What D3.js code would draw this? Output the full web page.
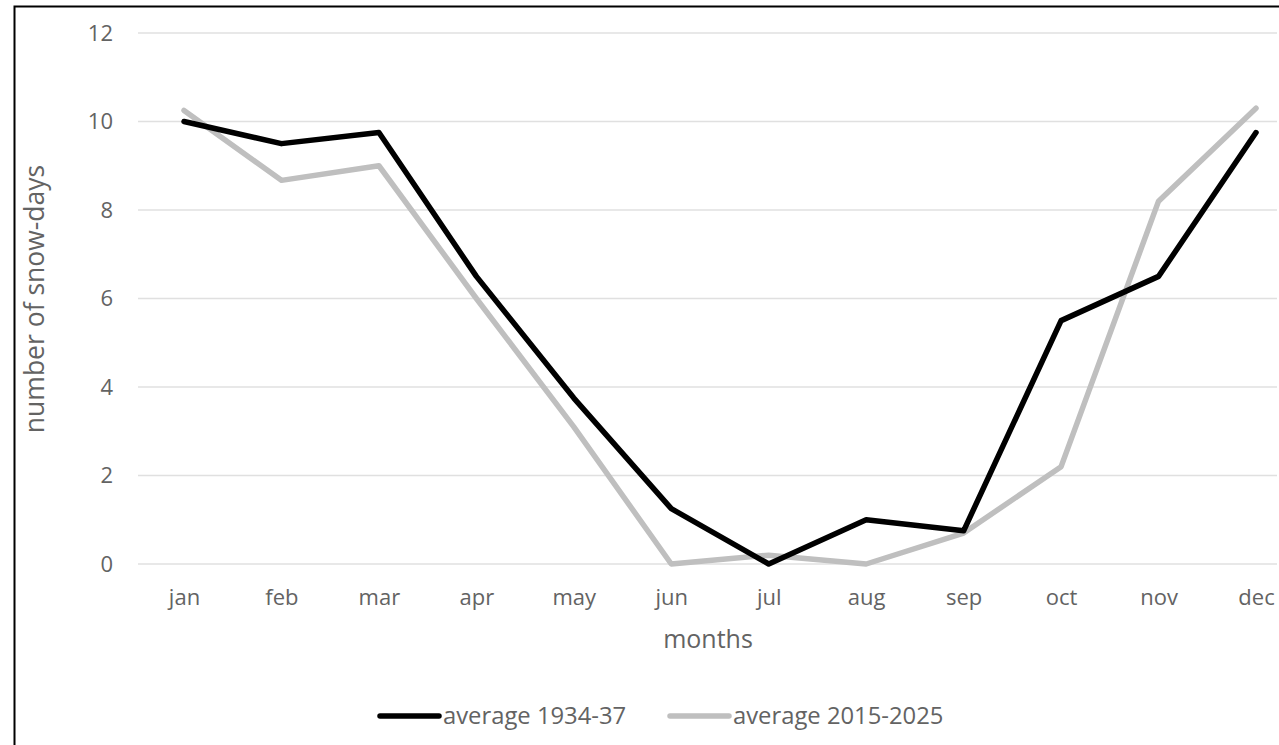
<!DOCTYPE html>
<html><head><meta charset="utf-8">
<script src="https://cdn.jsdelivr.net/npm/d3@7"></script>
<style>html,body{margin:0;padding:0;background:#fff;}svg{display:block;}</style>
</head><body>
<script>
const months = ["jan","feb","mar","apr","may","jun","jul","aug","sep","oct","nov","dec"];
const avg1934 = [10, 9.5, 9.75, 6.5, 3.75, 1.25, 0, 1, 0.75, 5.5, 6.5, 9.75];
const avg2015 = [10.25, 8.67, 9, 6, 3.1, 0, 0.2, 0, 0.7, 2.2, 8.2, 10.3];
const yTicks = [0, 2, 4, 6, 8, 10, 12];
const seriesNames = ["average 1934-37", "average 2015-2025"];
const seriesColors = ["#000000", "#bfbfbf"];

const W = 1279, H = 745;
const font = "'Open Sans', sans-serif";
const txt = "#636363";
const svg = d3.select("body").append("svg").attr("width", W).attr("height", H);
svg.append("rect").attr("width", W).attr("height", H).attr("fill", "#fff");
svg.append("rect").attr("x", 14.5).attr("y", 6.5).attr("width", W).attr("height", H)
  .attr("fill", "none").attr("stroke", "#000").attr("stroke-width", 2);

const x = d3.scalePoint().domain(months).range([184, 1256]);
const y = d3.scaleLinear().domain([0, 12]).range([564, 33]);
const gridX0 = 138, gridX1 = 1277;

// gridlines
svg.append("g").selectAll("line").data(yTicks).join("line")
  .attr("x1", gridX0).attr("x2", gridX1)
  .attr("y1", d => y(d)).attr("y2", d => y(d))
  .attr("stroke", "#e0e0e0").attr("stroke-width", 1.5);

// y axis labels via axis
const yAxis = svg.append("g").attr("transform", "translate(122,0)")
  .call(d3.axisLeft(y).tickValues(yTicks).tickSize(0).tickPadding(9));
yAxis.select(".domain").remove();
yAxis.selectAll("text").attr("fill", txt).style("font-family", font).style("font-size", "22px");

// x axis labels
const xAxis = svg.append("g").attr("transform", "translate(0,589)")
  .call(d3.axisBottom(x).tickSize(0).tickPadding(0));
xAxis.select(".domain").remove();
xAxis.selectAll("text").attr("fill", txt).style("font-family", font).style("font-size", "22px");

// titles
svg.append("text").attr("x", 708).attr("y", 648).attr("text-anchor", "middle")
  .attr("fill", txt).style("font-family", font).style("font-size", "25px").text("months");
svg.append("text").attr("transform", "translate(44,299) rotate(-90)").attr("text-anchor", "middle")
  .attr("fill", txt).style("font-family", font).style("font-size", "26.5px").text("number of snow-days");

// lines
const line = d3.line().x((d, i) => x(months[i])).y(d => y(d));
[avg2015, avg1934].forEach((s, k) => {
  const idx = k === 0 ? 1 : 0;
  svg.append("path").datum(s).attr("d", line).attr("fill", "none")
    .attr("stroke", seriesColors[idx]).attr("stroke-width", 5.5)
    .attr("stroke-linejoin", "round").attr("stroke-linecap", "round");
});

// legend
const legX = [380, 670];
seriesNames.forEach((n, i) => {
  svg.append("line").attr("x1", legX[i]).attr("x2", legX[i] + 59).attr("y1", 716).attr("y2", 716)
    .attr("stroke", seriesColors[i]).attr("stroke-width", 5.5).attr("stroke-linecap", "round");
  svg.append("text").attr("x", legX[i] + 63).attr("y", 724).attr("fill", txt)
    .style("font-family", font).style("font-size", "23.8px").text(n);
});
</script>
</body></html>
